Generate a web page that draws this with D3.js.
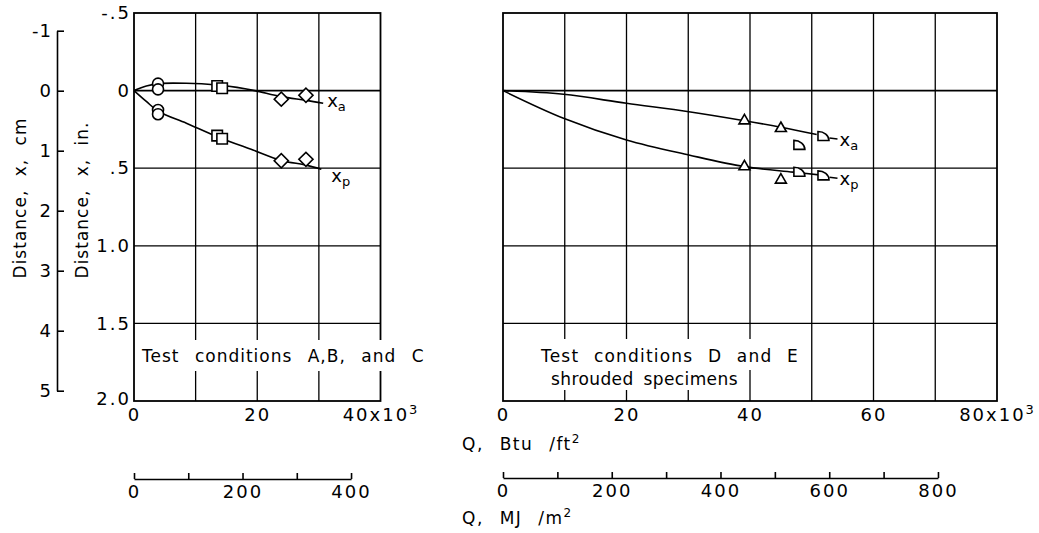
<!DOCTYPE html>
<html><head><meta charset="utf-8">
<script src="https://cdn.jsdelivr.net/npm/d3@7"></script>
<style>
body{margin:0;background:#fff}
svg text{font-family:"DejaVu Sans",sans-serif;fill:#000}
</style>
</head><body>
<svg id="chart" width="1039" height="533"></svg>
<script>
// ---------- data ----------
const leftQTicks = [0, 20, 40];
const rightQTicks = [0, 20, 40, 60, 80];
const leftQGrid = [10, 20, 30];
const rightQGrid = [10, 20, 30, 40, 50, 60, 70];
const inTicks = [-0.5, 0, 0.5, 1.0, 1.5, 2.0];
const inTickLabels = ["-.5", "0", ".5", "1.0", "1.5", "2.0"];
const inGrid = [0, 0.5, 1.0, 1.5];
const cmTicks = [-1, 0, 1, 2, 3, 4, 5];
const cmTickLabels = ["-1", "0", "1", "2", "3", "4", "5"];
const mjLeftTicks = [0, 100, 200, 300, 400];
const mjRightTicks = [0, 100, 200, 300, 400, 500, 600, 700, 800];
const mjLabelled = [0, 200, 400, 600, 800];

// left panel (test conditions A, B, C): Q in 10^3 Btu/ft2, x in inches
const leftCircleQ = [3.9, 3.9, 3.9, 3.9];
const leftCircleX = [-0.045, -0.008, 0.125, 0.152];
const leftSquareQ = [13.5, 14.3, 13.5, 14.3];
const leftSquareX = [-0.03, -0.015, 0.29, 0.31];
const leftDiamondQ = [23.9, 27.9, 23.9, 27.9];
const leftDiamondX = [0.055, 0.03, 0.452, 0.443];
const leftXaQ = [0, 2, 4, 8.5, 13.5, 16.7, 19.6, 23.9, 27.9, 30.7];
const leftXaX = [0, -0.03, -0.045, -0.047, -0.036, -0.021, 0, 0.039, 0.063, 0.082];
const leftXpQ = [0, 2, 4, 8.5, 13.5, 19.3, 23.9, 27.9, 30.4];
const leftXpX = [0, 0.07, 0.135, 0.21, 0.297, 0.383, 0.45, 0.48, 0.507];

// right panel (test conditions D, E; shrouded)
const rightTriQ = [39.1, 45.0, 39.1, 45.0];
const rightTriX = [0.194, 0.243, 0.49, 0.576];
const rightQuarterQ = [51.9, 48.0, 48.0, 51.9];
const rightQuarterX = [0.293, 0.35, 0.523, 0.546];
const rightXaQ = [0, 9.8, 20, 30.1, 39.1, 45, 50.8];
const rightXaX = [0, 0.024, 0.082, 0.136, 0.194, 0.236, 0.283];
const rightXpQ = [0, 9.8, 20, 30.1, 39.1, 47, 51.9];
const rightXpX = [0, 0.178, 0.318, 0.415, 0.49, 0.525, 0.546];

const BTU_TO_MJ = 0.011357; // MJ/m2 per Btu/ft2

// ---------- scales ----------
const svg = d3.select("#chart");
const xL = d3.scaleLinear().domain([0, 40]).range([134, 380.5]);
const xR = d3.scaleLinear().domain([0, 80]).range([503, 997]);
const y = d3.scaleLinear().domain([-0.5, 2.0]).range([13, 401]);
const cm = d3.scaleLinear().domain([-1, 5]).range([30.7, 390.7]);
const mjL = d3.scaleLinear().domain([0, 400]).range([xL(0), xL(400 / (BTU_TO_MJ * 1000))]);
const mjR = d3.scaleLinear().domain([0, 800]).range([xR(0), xR(800 / (BTU_TO_MJ * 1000))]);

const zip = (a, b) => a.map((v, i) => [v, b[i]]);

function panel(xs, grid) {
  const g = svg.append("g");
  const [x0, x1] = xs.range();
  grid.forEach(q => g.append("line").attr("x1", xs(q)).attr("x2", xs(q))
    .attr("y1", y(-0.5)).attr("y2", y(2.0)).attr("stroke", "#000").attr("stroke-width", 1.3));
  inGrid.forEach(v => g.append("line").attr("x1", x0).attr("x2", x1)
    .attr("y1", y(v)).attr("y2", y(v)).attr("stroke", "#000").attr("stroke-width", v === 0 ? 1.9 : 1.3));
  g.append("rect").attr("x", x0).attr("y", y(-0.5)).attr("width", x1 - x0).attr("height", y(2.0) - y(-0.5))
    .attr("fill", "none").attr("stroke", "#000").attr("stroke-width", 1.8);
  return g;
}
panel(xL, leftQGrid);
panel(xR, rightQGrid);

// white boxes behind in-plot text
svg.append("rect").attr("x", 138).attr("y", 340).attr("width", 300).attr("height", 31).attr("fill", "#fff");
svg.append("rect").attr("x", 533).attr("y", 339).attr("width", 276).attr("height", 31).attr("fill", "#fff");
svg.append("rect").attr("x", 543).attr("y", 368).attr("width", 197).attr("height", 22).attr("fill", "#fff");

function styleText(sel, size, ls) {
  sel.selectAll("text").attr("font-size", size).attr("letter-spacing", ls)
    .attr("font-family", '"DejaVu Sans",sans-serif').attr("fill", "#000");
}

// ---------- Btu axes ----------
function btuAxis(xs, ticks, last) {
  const g = svg.append("g").attr("transform", `translate(0,${y(2.0)})`)
    .call(d3.axisBottom(xs).tickValues(ticks).tickSize(0).tickPadding(7)
      .tickFormat(d => d === last ? d + "x10" : d));
  g.select(".domain").remove();
  styleText(g, 18, 2);
  g.selectAll(".tick text").filter(d => d === last)
    .append("tspan").attr("font-size", 13).attr("dy", -7).text("3");
}
btuAxis(xL, leftQTicks, 40);
btuAxis(xR, rightQTicks, 80);

// ---------- MJ axes ----------
function mjAxis(xs, ticks, yPos) {
  const g = svg.append("g").attr("transform", `translate(0,${yPos})`)
    .call(d3.axisBottom(xs).tickValues(ticks).tickSizeInner(-6).tickSizeOuter(0).tickPadding(6)
      .tickFormat(d => mjLabelled.includes(d) ? d : ""));
  g.selectAll("path,line").attr("stroke", "#000").attr("stroke-width", 1.6);
  styleText(g, 18, 2);
}
mjAxis(mjL, mjLeftTicks, 479);
mjAxis(mjR, mjRightTicks, 478);

// ---------- left axes ----------
const gIn = svg.append("g").attr("transform", `translate(${xL(0)},0)`)
  .call(d3.axisLeft(y).tickValues(inTicks).tickSize(0).tickPadding(3)
    .tickFormat((d, i) => inTickLabels[i]));
gIn.select(".domain").remove();
styleText(gIn, 18, 2);
gIn.selectAll(".tick text").filter(d => d === 2.0).attr("dy", "0.2em");

const gCm = svg.append("g").attr("transform", "translate(57,0)")
  .call(d3.axisLeft(cm).tickValues(cmTicks).tickSizeInner(-7).tickSizeOuter(0).tickPadding(5)
    .tickFormat((d, i) => cmTickLabels[i]));
gCm.selectAll("path,line").attr("stroke", "#000").attr("stroke-width", 1.6);
styleText(gCm, 18, 1);

// rotated titles
svg.append("text").attr("transform", "translate(26,198) rotate(-90)").attr("text-anchor", "middle")
  .attr("font-size", 17).attr("letter-spacing", 1).attr("word-spacing", 7).text("Distance, x, cm");
svg.append("text").attr("transform", "translate(88,200) rotate(-90)").attr("text-anchor", "middle")
  .attr("font-size", 17).attr("letter-spacing", 1).attr("word-spacing", 7).text("Distance, x, in.");

// Q titles
const tq1 = svg.append("text").attr("x", 462).attr("y", 450).attr("font-size", 17)
  .attr("letter-spacing", 1.5).attr("word-spacing", 9);
tq1.append("tspan").text("Q, Btu /ft");
tq1.append("tspan").attr("font-size", 12).attr("dy", -7).text("2");
const tq2 = svg.append("text").attr("x", 462).attr("y", 524).attr("font-size", 17)
  .attr("letter-spacing", 1.5).attr("word-spacing", 9);
tq2.append("tspan").text("Q, MJ /m");
tq2.append("tspan").attr("font-size", 12).attr("dy", -7).text("2");

// in-plot notes
svg.append("text").attr("x", 142).attr("y", 362).attr("font-size", 17).attr("letter-spacing", 1)
  .attr("word-spacing", 9).text("Test conditions A,B, and C");
svg.append("text").attr("x", 541).attr("y", 362).attr("font-size", 17).attr("letter-spacing", 1.2)
  .attr("word-spacing", 8).text("Test conditions D and E");
svg.append("text").attr("x", 551).attr("y", 385).attr("font-size", 17).attr("letter-spacing", 0.4)
  .attr("word-spacing", 4).text("shrouded specimens");

// ---------- curves ----------
function curve(xs, qs, vs) {
  const line = d3.line().x(d => xs(d[0])).y(d => y(d[1])).curve(d3.curveCatmullRom.alpha(0.5));
  svg.append("path").attr("d", line(zip(qs, vs))).attr("fill", "none")
    .attr("stroke", "#000").attr("stroke-width", 1.6);
}
curve(xL, leftXaQ, leftXaX);
curve(xL, leftXpQ, leftXpX);
curve(xR, rightXaQ, rightXaX);
curve(xR, rightXpQ, rightXpX);

// ---------- markers ----------
const mk = svg.append("g").attr("fill", "#fff").attr("stroke", "#000").attr("stroke-width", 1.6);
zip(leftCircleQ, leftCircleX).forEach(d =>
  mk.append("circle").attr("cx", xL(d[0])).attr("cy", y(d[1])).attr("r", 5.5));
zip(leftSquareQ, leftSquareX).forEach(d =>
  mk.append("path").attr("d", d3.symbol(d3.symbolSquare, 110)())
    .attr("transform", `translate(${xL(d[0])},${y(d[1])})`));
zip(leftDiamondQ, leftDiamondX).forEach(d =>
  mk.append("path").attr("d", d3.symbol(d3.symbolSquare, 100)())
    .attr("transform", `translate(${xL(d[0])},${y(d[1])}) rotate(45)`));
zip(rightTriQ, rightTriX).forEach(d =>
  mk.append("path").attr("d", d3.symbol(d3.symbolTriangle, 52)())
    .attr("transform", `translate(${xR(d[0])},${y(d[1])})`));
const quarter = "M-5.5,4.5 L-5.5,-4.5 A11,9 0 0 1 5.5,4.5 Z";
zip(rightQuarterQ, rightQuarterX).forEach(d =>
  mk.append("path").attr("d", quarter).attr("transform", `translate(${xR(d[0])},${y(d[1])})`));

// ---------- curve labels ----------
function curveLabel(xPos, yPos, sub) {
  const t = svg.append("text").attr("x", xPos).attr("y", yPos).attr("font-size", 18);
  t.append("tspan").text("x");
  t.append("tspan").attr("font-size", 13).attr("dy", 4).text(sub);
}
curveLabel(xL(leftXaQ[leftXaQ.length - 1]) + 4, y(leftXaX[leftXaX.length - 1]) + 4, "a");
curveLabel(xL(leftXpQ[leftXpQ.length - 1]) + 10, y(leftXpX[leftXpX.length - 1]) + 13, "p");
[[rightQuarterQ[0], rightQuarterX[0], "a"], [rightQuarterQ[3], rightQuarterX[3], "p"]].forEach(d => {
  const px = xR(d[0]), py = y(d[1]);
  svg.append("line").attr("x1", px + 6).attr("x2", px + 14).attr("y1", py + 2).attr("y2", py + 3)
    .attr("stroke", "#000").attr("stroke-width", 1.5);
  curveLabel(px + 16, py + 10, d[2]);
});
</script>
</body></html>
